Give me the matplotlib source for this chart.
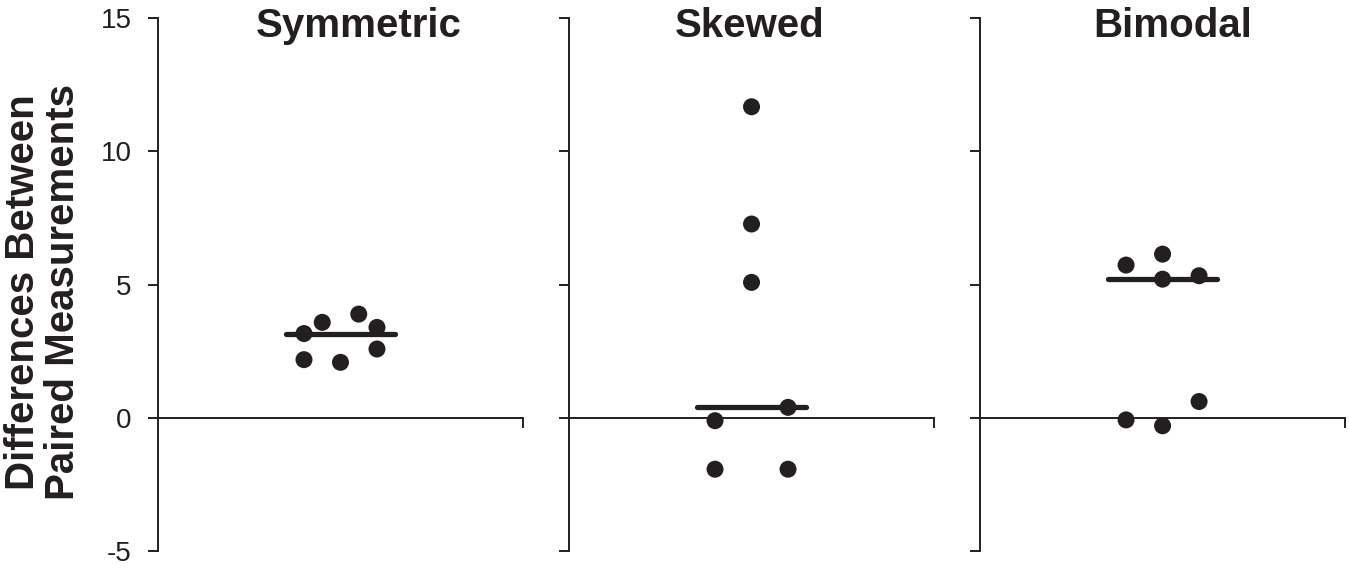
import numpy as np
import matplotlib
matplotlib.use('Agg')
import matplotlib.pyplot as plt

plt.rcParams['font.family'] = ['Liberation Sans', 'DejaVu Sans']
plt.rcParams['axes.unicode_minus'] = False

ink = '#231f20'

titles = ['Symmetric', 'Skewed', 'Bimodal']

# x offsets from the panel centre, y values
sym_x = [-0.2, -0.1, 0.1, 0.2, -0.2, 0.0, 0.2]
sym_y = [3.16, 3.58, 3.89, 3.39, 2.18, 2.08, 2.58]

skew_x = [0.0, 0.0, 0.0, 0.2, -0.2, -0.2, 0.2]
skew_y = [11.67, 7.27, 5.08, 0.39, -0.11, -1.93, -1.93]

bim_x = [-0.2, 0.0, 0.0, 0.2, -0.2, 0.0, 0.2]
bim_y = [5.73, 6.14, 5.20, 5.33, -0.08, -0.30, 0.61]

xs = [sym_x, skew_x, bim_x]
ys = [sym_y, skew_y, bim_y]

yticks = [-5, 0, 5, 10, 15]

fig = plt.figure(figsize=(13.49, 5.68), dpi=100)

lefts = [0.1171, 0.4218, 0.7265]
title_x = [0.549, 0.496, 0.529]

for i in range(3):
    ax = fig.add_axes([lefts[i], 0.0299, 0.2706, 0.9384])
    ax.set_xlim(0, 2)
    ax.set_ylim(-5, 15)

    x = 1 + np.array(xs[i])
    y = np.array(ys[i])
    med = np.median(y)
    ax.plot([0.7, 1.3], [med, med], color=ink, lw=3.8, solid_capstyle='round', zorder=2)
    ax.scatter(x, y, s=150, color=ink, edgecolors='none', zorder=3, clip_on=False)

    for s in ['top', 'right']:
        ax.spines[s].set_visible(False)
    ax.spines['bottom'].set_position(('data', 0))
    ax.spines['left'].set_linewidth(1.4)
    ax.spines['bottom'].set_linewidth(1.4)
    ax.spines['left'].set_color(ink)
    ax.spines['bottom'].set_color(ink)

    ax.set_yticks(yticks)
    ax.set_xticks([2])
    ax.set_xticklabels([])
    ax.tick_params(axis='y', direction='out', length=7, width=1.4, color=ink,
                   labelsize=20, labelcolor=ink, pad=12)
    ax.tick_params(axis='x', direction='out', length=7, width=1.4, color=ink)
    if i > 0:
        ax.set_yticklabels([])

    ax.text(title_x[i], 0.964, titles[i], transform=ax.transAxes, ha='center',
            va='baseline', fontsize=29, fontweight='bold', color=ink)

fig.text(0.032, 0.486, 'Differences Between\nPaired Measurements', rotation=90,
         ha='center', va='center', fontsize=29, fontweight='bold', color=ink,
         linespacing=1.05)

plt.savefig('out.png', dpi=100)
